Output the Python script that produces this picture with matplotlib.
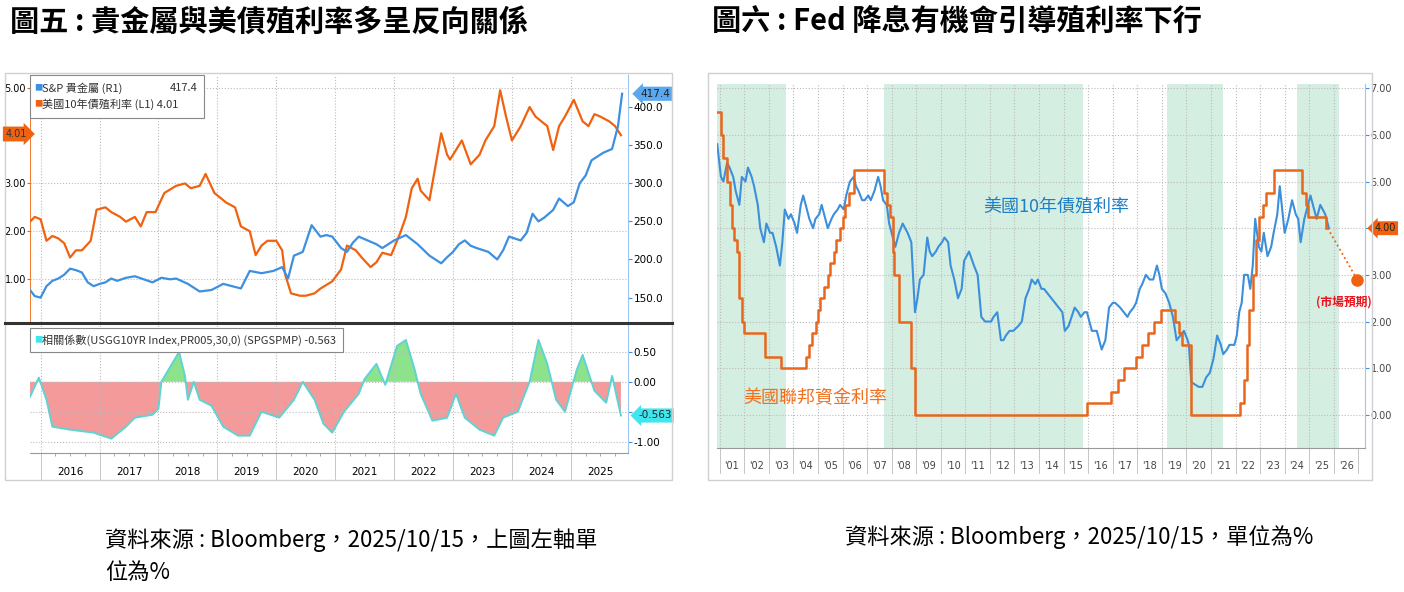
import numpy as np
import matplotlib.pyplot as plt
from matplotlib.patches import Rectangle

plt.rcParams['font.family'] = ['Noto Sans CJK TC', 'DejaVu Sans']

# ---- left chart data ----
y10_t = [2015.82, 2015.9, 2016.0, 2016.1, 2016.2, 2016.3, 2016.4, 2016.5, 2016.6, 2016.7, 2016.85, 2016.95,
         2017.1, 2017.2, 2017.35, 2017.45, 2017.6, 2017.7, 2017.8, 2017.95, 2018.1, 2018.3, 2018.45, 2018.55,
         2018.7, 2018.8, 2018.95, 2019.05, 2019.15, 2019.3, 2019.4, 2019.55, 2019.65, 2019.75, 2019.85, 2020.0,
         2020.1, 2020.15, 2020.25, 2020.4, 2020.5, 2020.65, 2020.75, 2020.95, 2021.1, 2021.2, 2021.35, 2021.45,
         2021.6, 2021.7, 2021.8, 2021.95, 2022.1, 2022.2, 2022.3, 2022.4, 2022.45, 2022.6, 2022.8, 2022.9,
         2022.95, 2023.05, 2023.15, 2023.3, 2023.45, 2023.55, 2023.7, 2023.8, 2023.9, 2024.0, 2024.15, 2024.3,
         2024.4, 2024.5, 2024.6, 2024.7, 2024.8, 2024.9, 2025.05, 2025.2, 2025.3, 2025.4, 2025.5, 2025.65,
         2025.75, 2025.85]
y10_v = [2.2, 2.3, 2.25, 1.8, 1.9, 1.85, 1.75, 1.45, 1.6, 1.6, 1.8, 2.45,
         2.5, 2.4, 2.3, 2.2, 2.3, 2.1, 2.4, 2.4, 2.8, 2.95, 3.0, 2.9,
         2.95, 3.2, 2.8, 2.7, 2.6, 2.5, 2.1, 2.0, 1.5, 1.7, 1.8, 1.8,
         1.6, 1.1, 0.7, 0.65, 0.65, 0.7, 0.8, 0.95, 1.2, 1.7, 1.6, 1.45,
         1.25, 1.35, 1.55, 1.5, 1.95, 2.3, 2.9, 3.1, 2.85, 2.65, 4.05, 3.6,
         3.5, 3.7, 3.9, 3.4, 3.6, 3.9, 4.2, 4.95, 4.4, 3.9, 4.2, 4.6,
         4.4, 4.3, 4.2, 3.7, 4.2, 4.4, 4.75, 4.3, 4.2, 4.45, 4.4, 4.3,
         4.2, 4.01]
gold_t = [2015.82, 2015.9, 2016.0, 2016.1, 2016.2, 2016.3, 2016.4, 2016.5, 2016.6, 2016.7, 2016.8, 2016.9,
          2017.0, 2017.1, 2017.2, 2017.3, 2017.45, 2017.6, 2017.75, 2017.9, 2018.05, 2018.2, 2018.3, 2018.5,
          2018.7, 2018.9, 2019.1, 2019.25, 2019.4, 2019.55, 2019.75, 2019.95, 2020.1, 2020.2, 2020.3, 2020.45,
          2020.6, 2020.75, 2020.85, 2020.95, 2021.1, 2021.2, 2021.3, 2021.4, 2021.55, 2021.7, 2021.8, 2022.0,
          2022.2, 2022.3, 2022.4, 2022.6, 2022.8, 2022.9, 2023.0, 2023.1, 2023.2, 2023.3, 2023.4, 2023.6,
          2023.75, 2023.85, 2023.95, 2024.15, 2024.25, 2024.35, 2024.45, 2024.55, 2024.7, 2024.8, 2024.95,
          2025.05, 2025.15, 2025.25, 2025.35, 2025.45, 2025.55, 2025.7, 2025.8, 2025.87]
gold_v = [160, 152, 150, 165, 172, 175, 180, 188, 186, 183, 170, 165,
          168, 170, 175, 172, 176, 178, 174, 170, 176, 174, 175, 168,
          158, 160, 168, 165, 162, 185, 182, 185, 190, 175, 205, 210,
          245, 230, 232, 230, 215, 210, 222, 230, 225, 220, 215, 225,
          232, 226, 220, 205, 195, 203, 210, 220, 225, 218, 215, 210,
          200, 212, 230, 225, 235, 260, 250, 255, 265, 280, 270,
          275, 300, 310, 330, 335, 340, 345, 375, 417.4]
corr_t = [2015.82, 2015.97, 2016.1, 2016.2, 2016.5, 2016.9, 2017.2, 2017.45, 2017.6, 2017.9, 2018.0, 2018.05,
          2018.2, 2018.35, 2018.45, 2018.5, 2018.6, 2018.7, 2018.9, 2019.1, 2019.35, 2019.55, 2019.75, 2019.9,
          2020.05, 2020.3, 2020.45, 2020.65, 2020.8, 2020.95, 2021.15, 2021.4, 2021.5, 2021.7, 2021.85, 2022.05,
          2022.2, 2022.35, 2022.45, 2022.65, 2022.9, 2023.05, 2023.2, 2023.45, 2023.7, 2023.85, 2024.1, 2024.3,
          2024.45, 2024.6, 2024.75, 2024.9, 2025.1, 2025.2, 2025.4, 2025.6, 2025.7, 2025.85]
corr_v = [-0.25, 0.07, -0.3, -0.75, -0.8, -0.85, -0.95, -0.75, -0.6, -0.55, -0.45, 0.0,
          0.25, 0.5, 0.1, -0.3, 0.0, -0.3, -0.4, -0.75, -0.9, -0.9, -0.5, -0.55,
          -0.6, -0.3, 0.0, -0.3, -0.7, -0.85, -0.5, -0.2, 0.05, 0.3, -0.05, 0.6,
          0.7, 0.2, -0.2, -0.65, -0.6, -0.2, -0.6, -0.8, -0.9, -0.6, -0.5, 0.0,
          0.7, 0.3, -0.3, -0.5, 0.2, 0.45, -0.15, -0.35, 0.1, -0.563]
left_years = list(range(2016, 2026))

# ---- right chart data ----
t10_t = [2000.9, 2001.05, 2001.15, 2001.3, 2001.4, 2001.55, 2001.65, 2001.8, 2001.9, 2002.05, 2002.15, 2002.3,
         2002.4, 2002.55, 2002.65, 2002.8, 2002.9, 2003.05, 2003.15, 2003.3, 2003.45, 2003.55, 2003.65, 2003.8,
         2003.9, 2004.05, 2004.15, 2004.3, 2004.4, 2004.55, 2004.65, 2004.8, 2004.9, 2005.05, 2005.15, 2005.3,
         2005.4, 2005.55, 2005.65, 2005.8, 2005.9, 2006.05, 2006.15, 2006.3, 2006.45, 2006.55, 2006.65, 2006.8,
         2006.9, 2007.05, 2007.15, 2007.3, 2007.45, 2007.55, 2007.65, 2007.8, 2007.9, 2008.05, 2008.15, 2008.3,
         2008.45, 2008.55, 2008.65, 2008.8, 2008.95, 2009.05, 2009.15, 2009.3, 2009.45, 2009.55, 2009.65,
         2009.8, 2009.9, 2010.05, 2010.15, 2010.3, 2010.4, 2010.55, 2010.7, 2010.85, 2010.95, 2011.15, 2011.35,
         2011.5, 2011.65, 2011.8, 2011.9, 2012.05, 2012.15, 2012.3, 2012.45, 2012.55, 2012.65, 2012.8, 2012.95,
         2013.15, 2013.3, 2013.45, 2013.6, 2013.7, 2013.85, 2013.95, 2014.1, 2014.2, 2014.35, 2014.5, 2014.65,
         2014.8, 2014.95, 2015.05, 2015.2, 2015.45, 2015.6, 2015.7, 2015.85, 2015.95, 2016.15, 2016.35,
         2016.55, 2016.7, 2016.85, 2017.0, 2017.1, 2017.3, 2017.45, 2017.6, 2017.7, 2017.85, 2017.95, 2018.1,
         2018.2, 2018.35, 2018.5, 2018.65, 2018.8, 2018.9, 2019.0, 2019.15, 2019.3, 2019.45, 2019.6, 2019.75,
         2019.9, 2020.05, 2020.1, 2020.2, 2020.35, 2020.5, 2020.65, 2020.8, 2020.95, 2021.1, 2021.25, 2021.4,
         2021.5, 2021.65, 2021.75, 2021.95, 2022.05, 2022.15, 2022.25, 2022.35, 2022.5, 2022.6, 2022.7,
         2022.8, 2022.95, 2023.05, 2023.15, 2023.3, 2023.45, 2023.55, 2023.7, 2023.8, 2023.9, 2024.0, 2024.15,
         2024.3, 2024.45, 2024.55, 2024.65, 2024.8, 2024.9, 2025.05, 2025.15, 2025.3, 2025.45, 2025.55,
         2025.65, 2025.8]
t10_v = [5.8, 5.1, 5.0, 5.4, 5.3, 5.1, 4.8, 4.5, 5.1, 5.0, 5.3, 5.1,
         4.9, 4.5, 4.0, 3.7, 4.1, 3.9, 3.9, 3.6, 3.2, 3.7, 4.4, 4.2,
         4.3, 4.1, 3.9, 4.5, 4.7, 4.4, 4.2, 4.0, 4.2, 4.3, 4.5, 4.2,
         4.0, 4.2, 4.3, 4.4, 4.5, 4.4, 4.7, 5.0, 5.1, 4.9, 4.8, 4.6,
         4.6, 4.7, 4.6, 4.8, 5.1, 4.9, 4.6, 4.5, 4.1, 3.8, 3.6, 3.9,
         4.1, 4.0, 3.9, 3.7, 2.2, 2.5, 2.9, 3.0, 3.8, 3.5, 3.4,
         3.5, 3.6, 3.7, 3.8, 3.7, 3.2, 2.9, 2.5, 2.7, 3.3, 3.5, 3.2,
         3.0, 2.1, 2.0, 2.0, 2.0, 2.1, 2.2, 1.6, 1.6, 1.7, 1.8, 1.8,
         1.9, 2.0, 2.5, 2.7, 2.9, 2.8, 2.9, 2.7, 2.7, 2.6, 2.5, 2.4,
         2.3, 2.2, 1.8, 1.9, 2.3, 2.2, 2.1, 2.2, 2.2, 1.8, 1.8,
         1.4, 1.6, 2.3, 2.4, 2.4, 2.3, 2.2, 2.1, 2.2, 2.3, 2.4, 2.7,
         2.8, 3.0, 2.9, 2.9, 3.2, 3.0, 2.7, 2.6, 2.4, 2.1, 1.6, 1.7,
         1.8, 1.6, 1.5, 0.7, 0.65, 0.6, 0.6, 0.8, 0.9, 1.2, 1.7, 1.5,
         1.3, 1.4, 1.5, 1.5, 1.7, 2.2, 2.4, 3.0, 3.0, 2.7, 3.2,
         4.2, 3.6, 3.5, 3.9, 3.4, 3.6, 3.9, 4.3, 4.9, 4.4, 3.9, 4.2,
         4.6, 4.3, 4.2, 3.7, 4.2, 4.4, 4.7, 4.5, 4.2, 4.5, 4.4,
         4.3, 4.0]
fed_t = [2000.9, 2001.05, 2001.15, 2001.3, 2001.4, 2001.5, 2001.6, 2001.7, 2001.8, 2001.9, 2002.0, 2002.85,
         2003.5, 2004.5, 2004.65, 2004.75, 2004.9, 2005.0, 2005.1, 2005.25, 2005.4, 2005.5, 2005.65, 2005.75,
         2005.9, 2006.0, 2006.1, 2006.25, 2006.45, 2007.7, 2007.8, 2007.95, 2008.05, 2008.1, 2008.3,
         2008.8, 2008.95, 2015.95, 2016.95, 2017.2, 2017.45, 2017.95, 2018.2, 2018.45, 2018.7, 2018.95,
         2019.55, 2019.7, 2019.8, 2020.2, 2022.2, 2022.35, 2022.45, 2022.55, 2022.7, 2022.85, 2022.95,
         2023.1, 2023.25, 2023.55, 2024.7, 2024.85, 2024.95, 2025.7]
fed_v = [6.5, 6.0, 5.5, 5.0, 4.5, 4.0, 3.75, 3.5, 2.5, 2.0, 1.75, 1.25,
         1.0, 1.25, 1.5, 1.75, 2.0, 2.25, 2.5, 2.75, 3.0, 3.25, 3.5, 3.75,
         4.0, 4.25, 4.5, 4.75, 5.25, 4.75, 4.5, 4.25, 3.5, 3.0, 2.0,
         1.0, 0.0, 0.25, 0.5, 0.75, 1.0, 1.25, 1.5, 1.75, 2.0, 2.25,
         2.0, 1.75, 1.5, 0.0, 0.25, 0.75, 1.5, 2.25, 3.0, 3.75, 4.25,
         4.5, 4.75, 5.25, 4.75, 4.5, 4.25, 4.0]
proj_t = [2025.75, 2026.95]
proj_v = [4.0, 2.9]
recess_bands = [(2000.9, 2003.7), (2007.7, 2015.8), (2019.2, 2021.5), (2024.5, 2026.2)]
right_years = list(range(2001, 2027))

W, H = 1404, 592
fig = plt.figure(figsize=(W / 100, H / 100), dpi=100)


def ax_at(x0, y0, x1, y1):
    return fig.add_axes([x0 / W, 1 - y1 / H, (x1 - x0) / W, (y1 - y0) / H])


def px(x, y):
    return x / W, 1 - y / H


ORANGE = '#f0620f'
BLUE = '#3d8fdf'

# frames
fig.patches.append(Rectangle(px(5, 480), 667 / W, 407 / H, transform=fig.transFigure,
                             fill=False, ec='#d0d0d0', lw=1))
fig.patches.append(Rectangle(px(708, 480), 664 / W, 407 / H, transform=fig.transFigure,
                             fill=False, ec='#d0d0d0', lw=1))

fig.text(*px(10, 22), '圖五 : 貴金屬與美債殖利率多呈反向關係', fontsize=21, fontweight='bold', va='center')
fig.text(*px(712, 22), '圖六 : Fed 降息有機會引導殖利率下行', fontsize=21, fontweight='bold', va='center')
fig.text(*px(105, 540), '資料來源 : Bloomberg，2025/10/15，上圖左軸單', fontsize=16, va='center')
fig.text(*px(105, 572), '位為%', fontsize=16, va='center')
fig.text(*px(845, 537), '資料來源 : Bloomberg，2025/10/15，單位為%', fontsize=16, va='center')

XL = (2015.82, 2025.97)
# ---- left top ----
ax = ax_at(30, 75, 628, 322)
ax.plot(y10_t, y10_v, color=ORANGE, lw=1.6)
ax.set_xlim(XL)
ax.set_ylim(0.10, 5.27)
ax.set_yticks([1, 2, 3, 5])
ax.set_yticklabels(['1.00', '2.00', '3.00', '5.00'], fontsize=7, family='DejaVu Sans')
ax.tick_params(axis='y', length=2, color=ORANGE, pad=1)
ax.set_xticks(left_years)
ax.set_xticklabels([])
ax.tick_params(axis='x', length=0)
ax.grid(True, ls=':', color='#bbbbbb', lw=0.8)
for s in ['top', 'right', 'bottom']:
    ax.spines[s].set_visible(False)
ax.spines['left'].set_color(ORANGE)
ax.spines['left'].set_linewidth(0.6)
ax2 = ax.twinx()
ax2.plot(gold_t, gold_v, color=BLUE, lw=1.6)
ax2.set_ylim(118, 442)
ax2.set_yticks([150, 200, 250, 300, 350, 400])
ax2.set_yticklabels([f'{v:.1f}' for v in [150, 200, 250, 300, 350, 400]], fontsize=7.5, family='DejaVu Sans')
ax2.tick_params(axis='y', length=3, color=BLUE, pad=1)
for s in ['top', 'left', 'bottom']:
    ax2.spines[s].set_visible(False)
ax2.spines['right'].set_color('#9cc6ef')
ax2.set_xlim(XL)
fig.text(*px(16, 134), '4.01', fontsize=7, color='#333333', ha='center', va='center',
         family='DejaVu Sans', bbox=dict(boxstyle='rarrow,pad=0.25', fc=ORANGE, ec='none'))
ax2.text(1.045, (417.4 - 118) / 324, '417.4', transform=ax2.transAxes, fontsize=7.5, color='#222222',
         ha='center', va='center', family='DejaVu Sans',
         bbox=dict(boxstyle='larrow,pad=0.2', fc='#5aa8f0', ec='none'))
# legend
lg = dict(fontsize=8, va='center', color='#333333')
fig.patches.append(Rectangle(px(30, 118), 174 / W, 43 / H, transform=fig.transFigure,
                             fc='white', ec='#888888', lw=0.8, zorder=5))
fig.text(*px(34, 88), '■', color=BLUE, fontsize=6, va='center', zorder=6)
fig.text(*px(42, 88), 'S&P 貴金屬 (R1)', zorder=6, **lg)
fig.text(*px(170, 88), '417.4', zorder=6, **lg)
fig.text(*px(34, 104), '■', color=ORANGE, fontsize=6, va='center', zorder=6)
fig.text(*px(42, 104), '美國10年債殖利率 (L1) 4.01', zorder=6, **lg)

# divider
fig.lines.append(plt.Line2D([5 / W, 672 / W], [1 - 323 / H] * 2, transform=fig.transFigure,
                            color='#333333', lw=2.2))

# ---- left bottom ----
bx = ax_at(30, 325, 628, 453)
tt = np.linspace(XL[0], 2025.85, 800)
ct = np.interp(tt, corr_t, corr_v)
bx.fill_between(tt, ct, 0, where=ct < 0, color='#f49a9a', interpolate=True, lw=0)
bx.fill_between(tt, ct, 0, where=ct > 0, color='#8ce38c', interpolate=True, lw=0)
bx.plot(corr_t, corr_v, color='#5fd3d3', lw=1.4)
bx.set_xlim(XL)
bx.set_ylim(-1.19, 0.95)
bx.set_yticks([-1, -0.5, 0, 0.5])
bx.set_yticklabels(['-1.00', '', '0.00', '0.50'], fontsize=7.5, family='DejaVu Sans')
bx.yaxis.tick_right()
bx.tick_params(axis='y', length=3, color=BLUE, pad=1)
bx.set_xticks(left_years)
bx.set_xticks(np.arange(2016, 2026, 0.25), minor=True)
bx.set_xticklabels([])
bx.tick_params(axis='x', which='major', length=0)
bx.tick_params(axis='x', which='minor', length=2, color='#999999')
bx.grid(True, ls=':', color='#bbbbbb', lw=0.8)
for s in ['top', 'left']:
    bx.spines[s].set_visible(False)
bx.spines['right'].set_color('#9cc6ef')
bx.spines['bottom'].set_color('#999999')
bx.text(1.045, (-0.563 + 1.19) / 2.14, '-0.563', transform=bx.transAxes, fontsize=7.5, color='#222222',
        ha='center', va='center', family='DejaVu Sans',
        bbox=dict(boxstyle='larrow,pad=0.2', fc='#40e6ee', ec='none'))
fig.patches.append(Rectangle(px(30, 352), 313 / W, 24 / H, transform=fig.transFigure,
                             fc='white', ec='#888888', lw=0.8, zorder=5))
fig.text(*px(34, 340), '■', color='#40e6ee', fontsize=6, va='center', zorder=6)
fig.text(*px(42, 340), '相關係數(USGG10YR Index,PR005,30,0) (SPGSPMP) -0.563', zorder=6, **lg)
xt = bx.get_xaxis_transform()
for y in left_years:
    bx.text(y + 0.5, -0.15, str(y), transform=xt, fontsize=7.5, ha='center', va='center',
            family='DejaVu Sans')
    bx.plot([y, y], [0, -0.2], transform=xt, color='#bbbbbb', lw=0.6, clip_on=False)
bx.set_xlim(XL)

# ---- right chart ----
XR = (2000.89, 2027.27)
rx = ax_at(717, 84, 1365, 448)
for a, b in recess_bands:
    rx.axvspan(a, b, color='#d4eee1', lw=0)
rx.plot(t10_t, t10_v, color='#3b8fdc', lw=1.5)
rx.step(fed_t, fed_v, where='post', color='#e8671c', lw=1.8)
rx.plot(proj_t, proj_v, color=ORANGE, lw=1.3, ls=':')
rx.plot(proj_t[1], proj_v[1], 'o', color=ORANGE, ms=8)
rx.set_ylim(-0.71, 7.09)
rx.set_yticks(range(0, 8))
rx.set_yticklabels([('' if v == 4 else f'{v}.00') for v in range(8)], fontsize=7,
                   family='DejaVu Sans', color='#444444')
rx.yaxis.tick_right()
rx.tick_params(axis='y', length=3, color=BLUE, pad=1)
rx.set_xticks(right_years)
rx.set_xticklabels([])
rx.tick_params(axis='x', length=0)
rx.grid(True, ls=':', color='#bbbbbb', lw=0.8)
for s in ['top', 'left']:
    rx.spines[s].set_visible(False)
rx.spines['right'].set_color('#9cc6ef')
rx.spines['bottom'].set_color('#999999')
rx.text(2014.7, 4.45, '美國10年債殖利率', color='#1f7fc4', fontsize=13, ha='center', va='center')
rx.text(2004.9, 0.36, '美國聯邦資金利率', color='#f07020', fontsize=13, ha='center', va='center')
rx.text(2026.4, 2.42, '(市場預期)', color='#e8141c', fontsize=8.5, ha='center', va='center',
        fontweight='bold')
rx.text(1.015, (4.0 + 0.71) / 7.8, '4.00', transform=rx.transAxes, fontsize=7, color='#222222',
        ha='left', va='center', family='DejaVu Sans',
        bbox=dict(boxstyle='larrow,pad=0.2', fc=ORANGE, ec='none'))
rt = rx.get_xaxis_transform()
for y in right_years:
    rx.text(y + 0.5, -0.05, f"'{y % 100:02d}", transform=rt, fontsize=7,
            ha='center', va='center', family='DejaVu Sans', color='#444444')
for y in right_years + [2027]:
    rx.plot([y, y], [0, -0.07], transform=rt, color='#bbbbbb', lw=0.6, clip_on=False)
rx.set_xlim(XR)

fig.savefig('out.png', dpi=100)
